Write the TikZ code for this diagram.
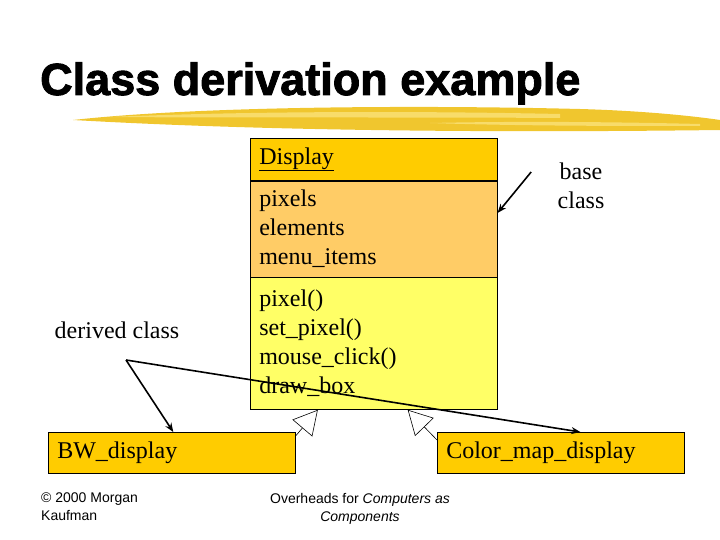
\documentclass[tikz,border=0pt]{standalone}
\usepackage{fontspec}
\setmainfont{Liberation Serif}
\setsansfont{Liberation Sans}
\newfontfamily\titlefont[FakeBold=2]{Liberation Sans Bold}
\usetikzlibrary{positioning,arrows.meta,calc}

\definecolor{headgold}{HTML}{FFCC00}
\definecolor{attrorange}{HTML}{FFCC66}
\definecolor{methyellow}{HTML}{FFFF66}
\definecolor{brushyellow}{HTML}{F0C62E}
\definecolor{brushlight}{HTML}{F8DC6A}

\tikzset{
  classpart/.style={draw=black, line width=0.6pt, anchor=north west, align=left,
    text width=229pt, inner xsep=9pt, inner ysep=0pt,
    font=\fontsize{24}{29}\selectfont},
  derivedbox/.style={classpart, fill=headgold, minimum height=41pt},
  plainlbl/.style={font=\fontsize{24}{29}\selectfont, align=center},
  footlbl/.style={font=\sffamily\fontsize{14}{18}\selectfont},
  pointer/.style={line width=1.6pt, -{Stealth[length=9pt,width=7pt]}},
  inherit/.style={line width=0.6pt, -{Triangle[open,length=24pt,width=26pt]}}
}

\begin{document}
\begin{tikzpicture}[x=1pt,y=-1pt]
      \useasboundingbox (0,0) rectangle (720,540);
      % title and brush stroke
      \node[anchor=base west, inner sep=0pt,
        font=\titlefont\fontsize{45}{50}\selectfont] (title) at (40,95)
        {Class derivation example};
      \fill[brushyellow] (73,120) .. controls (200,106) and (420,105) .. (580,109)
        .. controls (650,111) and (700,117) .. (720,120) -- (720,130)
        .. controls (560,132) and (300,133) .. (73,120) -- cycle;
      \fill[brushlight] (110,117) .. controls (250,111) and (420,111) .. (560,114)
        -- (560,118) .. controls (420,117) and (250,118) .. (110,117) -- cycle;
      \fill[brushlight] (430,123) .. controls (520,121) and (620,122) .. (700,124)
        -- (700,126) .. controls (620,126) and (520,126) .. (430,123) -- cycle;
      % base class
      \node[classpart, fill=headgold, minimum height=42pt] (head) at (250,138)
        {\underline{Display}\vphantom{g}};
      \node[classpart, fill=attrorange, minimum height=96pt, below=0pt of head]
        (attrs) {pixels\\elements\\menu\_items};
      \node[classpart, fill=methyellow, minimum height=132pt, below=0pt of attrs]
        (meths) {pixel()\\set\_pixel()\\mouse\_click()\\draw\_box};
      \node[plainlbl] (baselbl) at (581,186) {base\\class};
      \draw[pointer] ([xshift=-23pt,yshift=14pt]baselbl.west)
        -- ([yshift=16pt]attrs.east);
      % derived classes
      \node[derivedbox] (bw) at (48,432) {BW\_display};
      \node[derivedbox] (cmap) at (437,432) {Color\_map\_display};
      \node[plainlbl] (derlbl) at (117,330) {derived class};
      \coordinate (dsrc) at (126,360);
      \draw[pointer] (dsrc) -- ($(bw.north west)!0.506!(bw.north east)$);
      \draw[pointer] (dsrc) -- ($(cmap.north west)!0.579!(cmap.north east)$);
      \draw[inherit] ([yshift=-4pt]bw.north east)
        -- ($(meths.south west)!0.274!(meths.south east)$);
      \draw[inherit] ([yshift=-8pt]cmap.north west)
        -- ($(meths.south west)!0.637!(meths.south east)$);
      % footer
      \node[footlbl, anchor=north west, align=left, inner sep=0pt] (copy)
        at (41,493) {\textcopyright{} 2000 Morgan\\Kaufman};
      \node[footlbl, anchor=north, align=center, inner sep=0pt] (over)
        at (360,493) {Overheads for \textit{Computers as}\\\textit{Components}};
\end{tikzpicture}
\end{document}
